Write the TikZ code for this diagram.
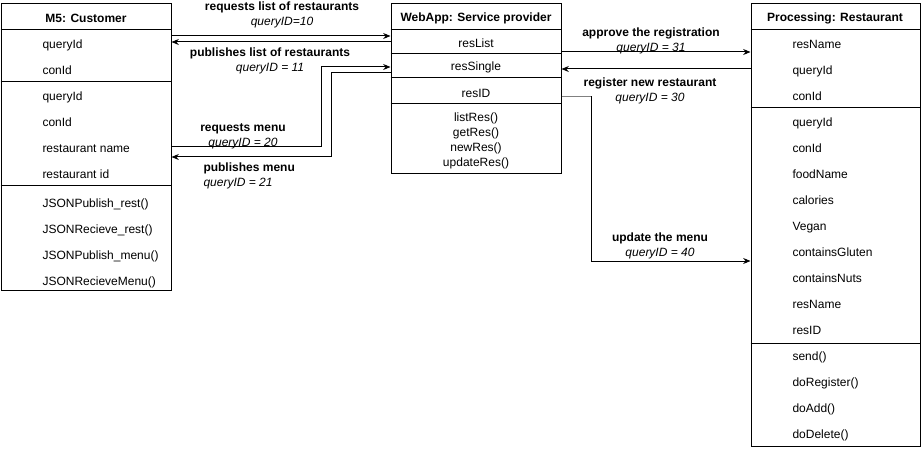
\documentclass[tikz,border=0pt]{standalone}
\usepackage{fontspec}
\setmainfont{Liberation Sans}
\usetikzlibrary{arrows.meta,fit}

\begin{document}
\begin{tikzpicture}[x=0.75pt, y=-0.75pt, line width=0.75pt,
    every node/.style={font=\fontsize{9}{11.25}\selectfont},
    box/.style={draw, inner sep=0pt, fit={#1}},
    head/.style={font=\bfseries\fontsize{9}{11.25}\selectfont},
    row/.style={anchor=mid west, inner sep=0pt},
    msg/.style={-{Stealth[length=5.5pt, width=4.5pt]}},
    lbl/.style={align=center, inner sep=0pt}]
    \useasboundingbox (0,0) rectangle (921,449);

    % customer
    \node[box={(1,4) (171,290)}] (cust) {};
    \node[head] (custh) at (86,18) {M5: Customer};
    \draw (cust.west |- 0,30) -- (cust.east |- 0,30);
    \draw (cust.west |- 0,82) -- (cust.east |- 0,82);
    \draw (cust.west |- 0,186) -- (cust.east |- 0,186);
    \foreach \t [count=\i] in {queryId, conId, queryId, conId, restaurant name, restaurant id} {
        \node[row] (c\i) at (42, 19+\i*26) {\t};
    }
    \foreach \t [count=\i] in {JSONPublish\_rest(), JSONRecieve\_rest(), JSONPublish\_menu(), JSONRecieveMenu()} {
        \node[row] (cm\i) at (42, 178+\i*26) {\t};
    }

    % web app
    \node[box={(391,4) (561,174)}] (web) {};
    \node[head] (webh) at (476,18) {WebApp: Service provider};
    \foreach \y in {30,54,78,104} {
        \draw (web.west |- 0,\y) -- (web.east |- 0,\y);
    }
    \node (w1) at (476,43.5) {resList};
    \node (w2) at (476,67.5) {resSingle};
    \node (w3) at (476,93) {resID};
    \node[lbl] (wm) at (476,140.5) {listRes()\\getRes()\\newRes()\\updateRes()};

    % restaurant
    \node[box={(751,4) (920,446)}] (rest) {};
    \node[head] (resth) at (835,18) {Processing: Restaurant};
    \foreach \y in {30,108,343} {
        \draw (rest.west |- 0,\y) -- (rest.east |- 0,\y);
    }
    \foreach \t [count=\i] in {resName, queryId, conId, queryId, conId, foodName, calories, Vegan, containsGluten, containsNuts, resName, resID, send(), doRegister(), doAdd(), doDelete()} {
        \node[row] (r\i) at (792, 19+\i*26) {\t};
    }

    % messages
    \draw[msg] (cust.east |- 0,36) -- (web.west |- 0,36);
    \draw[msg] (web.west |- 0,42) -- (cust.east |- 0,42);
    \draw[msg] (cust.east |- 0,147) -| (321,67) -- (web.west |- 0,67);
    \draw[msg] (web.west |- 0,73) -| (331,157) -- (cust.east |- 0,157);
    \draw[msg] (web.east |- 0,52) -- (rest.west |- 0,52);
    \draw[msg] (rest.west |- 0,69) -- (web.east |- 0,69);
    \draw[msg] (web.east |- 0,97) -| (591,261) -- (rest.west |- 0,261);
    \draw[gray] (web.east |- 0,97) -- (591,97);

    % labels
    \node[lbl] (l1) at (282,15) {\textbf{requests list of restaurants}\\\textit{queryID=10}};
    \node[lbl] (l2) at (270,61) {\textbf{publishes list of restaurants}\\\textit{queryID = 11}};
    \node[lbl] (l3) at (243,136.5) {\textbf{requests menu}\\\textit{queryID = 20}};
    \node[lbl, align=left, anchor=west] (l4) at (203,176) {\textbf{publishes menu}\\\textit{queryID = 21}};
    \node[lbl] (l5) at (651,41) {\textbf{approve the registration}\\\textit{queryID = 31}};
    \node[lbl] (l6) at (650,91) {\textbf{register new restaurant}\\\textit{queryID = 30}};
    \node[lbl] (l7) at (660,246) {\textbf{update the menu}\\\textit{queryID = 40}};
\end{tikzpicture}
\end{document}
